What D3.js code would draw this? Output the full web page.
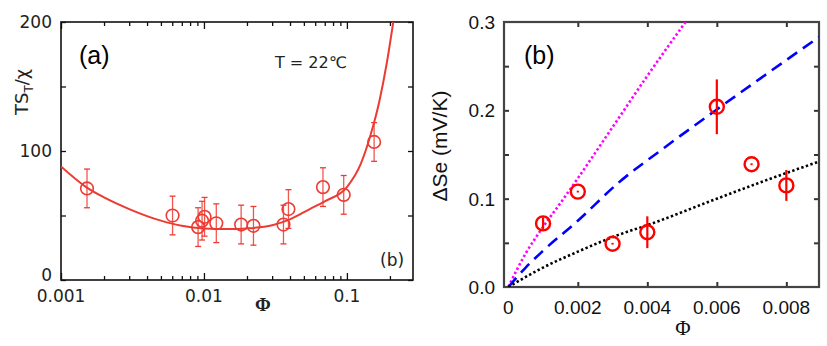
<!DOCTYPE html>
<html>
<head>
<meta charset="utf-8">
<title>Thermophoresis panels</title>
<script src="https://cdn.jsdelivr.net/npm/d3@7"></script>
<style>
  body { margin: 0; background: #fff; }
  svg { display: block; }
  .axis path { display: none; }
  .axis line { stroke: #111; stroke-width: 1.3; }
  .axisB line { stroke: #333; stroke-width: 2; }
</style>
</head>
<body>
<script>
// ---------- panel (a): TS_T/chi vs phi (log x) ----------
const phiA = [0.00152, 0.00603, 0.0091, 0.0097, 0.0101, 0.0122, 0.0182, 0.0222, 0.036, 0.039, 0.068, 0.095, 0.155];
const tsA  = [71, 50, 41, 46, 49, 44, 43, 42, 43, 55, 72, 66, 107];
const errA = [15, 15, 15, 15, 15, 15, 15, 15, 15, 15, 15, 15, 15];
// fitted curve
const fitPhiA = [0.001, 0.0015, 0.002, 0.003, 0.005, 0.007, 0.01, 0.015, 0.02, 0.03, 0.04, 0.055, 0.07, 0.1, 0.125, 0.146, 0.169, 0.19, 0.211];
const fitTsA  = [88, 72, 64, 55, 46, 42, 40, 39.5, 40, 42.5, 47, 55, 61, 72, 90, 112, 139, 168, 200];
const yTicksA = [0, 100, 200];

// ---------- panel (b): delta Se vs phi ----------
const phiB = [0.001, 0.002, 0.003, 0.004, 0.006, 0.007, 0.008];
const seB  = [0.072, 0.108, 0.049, 0.062, 0.204, 0.139, 0.115];
const errB = [0.007, 0.001, 0.001, 0.018, 0.031, 0.001, 0.0175];
const magPhi = [0, 0.0005, 0.001, 0.0015, 0.002, 0.003, 0.004, 0.0051];
const magSe  = [0, 0.038, 0.068, 0.095, 0.123, 0.181, 0.239, 0.3];
const bluePhi = [0, 0.0005, 0.001, 0.002, 0.00317, 0.0045, 0.006, 0.0075, 0.00894];
const blueSe  = [0, 0.022, 0.041, 0.075, 0.118, 0.158, 0.201, 0.243, 0.283];
const blkPhi = [0, 0.001, 0.002, 0.00317, 0.004, 0.006, 0.0075, 0.00894];
const blkSe  = [0, 0.022, 0.04, 0.059, 0.07, 0.1, 0.122, 0.142];
const xTicksB = [0, 0.002, 0.004, 0.006, 0.008];
const yTicksB = [0, 0.1, 0.2, 0.3];

const W = 827, H = 346;
const svg = d3.select('body').append('svg').attr('width', W).attr('height', H);

// ================= panel (a) =================
const xA = d3.scaleLog().domain([0.001, 0.29]).range([61, 413]);
const yA = d3.scaleLinear().domain([0, 200]).range([280, 22]);
const gA = svg.append('g');
const redA = '#ec3b32';

// log ticks
const logMinor = [], logMajor = [0.001, 0.01, 0.1];
[0.001, 0.01, 0.1].forEach(d => { for (let k = 2; k <= 9; k++) if (d * k <= 0.29) logMinor.push(d * k); });

gA.append('g').attr('class', 'axis').attr('transform', 'translate(0,280)')
  .call(d3.axisBottom(xA).tickValues(logMinor).tickSize(-4).tickFormat(''));
gA.append('g').attr('class', 'axis').attr('transform', 'translate(0,280)')
  .call(d3.axisBottom(xA).tickValues(logMajor).tickSize(-7).tickFormat(''));
gA.append('g').attr('class', 'axis').attr('transform', 'translate(0,22)')
  .call(d3.axisTop(xA).tickValues(logMinor).tickSize(-4).tickFormat(''));
gA.append('g').attr('class', 'axis').attr('transform', 'translate(0,22)')
  .call(d3.axisTop(xA).tickValues(logMajor).tickSize(-7).tickFormat(''));
gA.append('g').attr('class', 'axis').attr('transform', 'translate(61,0)')
  .call(d3.axisLeft(yA).tickValues([0, 50, 100, 150, 200]).tickSize(-5).tickFormat(''));
gA.append('g').attr('class', 'axis').attr('transform', 'translate(413,0)')
  .call(d3.axisRight(yA).tickValues([0, 50, 100, 150, 200]).tickSize(-5).tickFormat(''));

gA.append('rect').attr('x', 61).attr('y', 22).attr('width', 352).attr('height', 258)
  .attr('fill', 'none').attr('stroke', '#111').attr('stroke-width', 1.6);

// tick labels
gA.selectAll('.ylab').data(yTicksA).enter().append('text')
  .attr('x', 52).attr('y', d => d === 0 ? 281 : yA(d) + 6)
  .attr('text-anchor', 'end').attr('font-family', 'DejaVu Sans').attr('font-size', 17)
  .attr('fill', '#222').text(d => d);
gA.selectAll('.xlab').data(logMajor).enter().append('text')
  .attr('x', d => xA(d)).attr('y', 302)
  .attr('text-anchor', 'middle').attr('font-family', 'DejaVu Sans').attr('font-size', 17)
  .attr('fill', '#222').text(d => d3.format('~g')(d));

// clip + fit line
svg.append('clipPath').attr('id', 'clipA').append('rect')
  .attr('x', 61).attr('y', 22).attr('width', 352).attr('height', 258);
const fitA = fitPhiA.map((p, i) => [p, fitTsA[i]]);
gA.append('path').datum(fitA).attr('clip-path', 'url(#clipA)')
  .attr('d', d3.line().x(d => xA(d[0])).y(d => yA(d[1])).curve(d3.curveMonotoneX))
  .attr('fill', 'none').attr('stroke', redA).attr('stroke-width', 2);

// data points with capped error bars
const ptsA = gA.selectAll('.ptA').data(phiA.map((p, i) => ({p, v: tsA[i], e: errA[i]})))
  .enter().append('g').attr('stroke', redA).attr('fill', 'none');
ptsA.append('line').attr('x1', d => xA(d.p)).attr('x2', d => xA(d.p))
  .attr('y1', d => yA(d.v + d.e)).attr('y2', d => yA(d.v - d.e)).attr('stroke-width', 1.3).attr('opacity', 0.85);
ptsA.append('line').attr('x1', d => xA(d.p) - 3).attr('x2', d => xA(d.p) + 3)
  .attr('y1', d => yA(d.v + d.e)).attr('y2', d => yA(d.v + d.e)).attr('stroke-width', 1.3);
ptsA.append('line').attr('x1', d => xA(d.p) - 3).attr('x2', d => xA(d.p) + 3)
  .attr('y1', d => yA(d.v - d.e)).attr('y2', d => yA(d.v - d.e)).attr('stroke-width', 1.3);
ptsA.append('circle').attr('cx', d => xA(d.p)).attr('cy', d => yA(d.v)).attr('r', 6.3)
  .attr('stroke-width', 1.6);

// labels
gA.append('text').attr('x', 79).attr('y', 64).attr('font-family', 'Liberation Sans')
  .attr('font-size', 25).attr('fill', '#000').text('(a)');
gA.append('text').attr('x', 275).attr('y', 68).attr('font-family', 'DejaVu Sans')
  .attr('font-size', 16).attr('fill', '#222').text('T = 22\u2103');
gA.append('text').attr('x', 380).attr('y', 266).attr('font-family', 'DejaVu Sans')
  .attr('font-size', 17).attr('fill', '#222').text('(b)');
gA.append('text').attr('x', 263).attr('y', 311).attr('text-anchor', 'middle')
  .attr('font-family', 'Liberation Serif').attr('font-weight', 'bold').attr('font-size', 19)
  .attr('fill', '#222').text('\u03A6');
const yLabA = gA.append('text').attr('transform', 'translate(28,115) rotate(-90)')
  .attr('font-family', 'DejaVu Sans').attr('font-size', 18).attr('fill', '#222');
yLabA.append('tspan').text('TS');
yLabA.append('tspan').attr('font-size', 12).attr('dy', 5).text('T');
yLabA.append('tspan').attr('dy', -5).text('/\u03C7');

// ================= panel (b) =================
const xB = d3.scaleLinear().domain([-0.000124, 0.00894]).range([504, 819]);
const yB = d3.scaleLinear().domain([0, 0.3]).range([287, 22]);
const gB = svg.append('g');

gB.append('g').attr('class', 'axis axisB').attr('transform', 'translate(0,287)')
  .call(d3.axisBottom(xB).tickValues(xTicksB.slice(1)).tickSize(-5).tickFormat(''));
gB.append('g').attr('class', 'axis axisB').attr('transform', 'translate(0,22)')
  .call(d3.axisTop(xB).tickValues(xTicksB.slice(1)).tickSize(-5).tickFormat(''));
const yTicksBAll = [0.05, 0.1, 0.15, 0.2, 0.25];
gB.append('g').attr('class', 'axis axisB').attr('transform', 'translate(504,0)')
  .call(d3.axisLeft(yB).tickValues(yTicksBAll).tickSize(-5).tickFormat(''));
gB.append('g').attr('class', 'axis axisB').attr('transform', 'translate(819,0)')
  .call(d3.axisRight(yB).tickValues(yTicksBAll).tickSize(-5).tickFormat(''));
gB.append('rect').attr('x', 504).attr('y', 22).attr('width', 315).attr('height', 265)
  .attr('fill', 'none').attr('stroke', '#444').attr('stroke-width', 2.2);

gB.selectAll('.ylabB').data(yTicksB).enter().append('text')
  .attr('x', 495).attr('y', d => yB(d) + 7)
  .attr('text-anchor', 'end').attr('font-family', 'Liberation Sans').attr('font-size', 19)
  .attr('fill', '#111').text(d => d3.format('.1f')(d));
gB.selectAll('.xlabB').data(xTicksB).enter().append('text')
  .attr('x', d => xB(d)).attr('y', 314)
  .attr('text-anchor', 'middle').attr('font-family', 'Liberation Sans').attr('font-size', 19)
  .attr('fill', '#111').text(d => d === 0 ? '0' : d3.format('.3f')(d));

svg.append('clipPath').attr('id', 'clipB').append('rect')
  .attr('x', 504).attr('y', 22).attr('width', 315).attr('height', 265);
const lineB = d3.line().x(d => xB(d[0])).y(d => yB(d[1])).curve(d3.curveMonotoneX);
gB.append('path').datum(magPhi.map((p, i) => [p, magSe[i]])).attr('clip-path', 'url(#clipB)')
  .attr('d', lineB).attr('fill', 'none').attr('stroke', '#ff00ff').attr('stroke-width', 2.6)
  .attr('stroke-dasharray', '2.4 2.4');
gB.append('path').datum(bluePhi.map((p, i) => [p, blueSe[i]])).attr('clip-path', 'url(#clipB)')
  .attr('d', lineB).attr('fill', 'none').attr('stroke', '#0000ff').attr('stroke-width', 2.6)
  .attr('stroke-dasharray', '12 7');
gB.append('path').datum(blkPhi.map((p, i) => [p, blkSe[i]])).attr('clip-path', 'url(#clipB)')
  .attr('d', lineB).attr('fill', 'none').attr('stroke', '#000').attr('stroke-width', 2.6)
  .attr('stroke-dasharray', '2.4 2.4');

const ptsB = gB.selectAll('.ptB').data(phiB.map((p, i) => ({p, v: seB[i], e: errB[i]})))
  .enter().append('g').attr('stroke', '#ff0000').attr('fill', 'none');
ptsB.append('line').attr('x1', d => xB(d.p)).attr('x2', d => xB(d.p))
  .attr('y1', d => yB(d.v + d.e)).attr('y2', d => yB(d.v - d.e)).attr('stroke-width', 2.2);
ptsB.append('circle').attr('cx', d => xB(d.p)).attr('cy', d => yB(d.v)).attr('r', 7)
  .attr('stroke-width', 2.4);

gB.append('text').attr('x', 524).attr('y', 64).attr('font-family', 'Liberation Sans')
  .attr('font-size', 25).attr('fill', '#000').text('(b)');
gB.append('text').attr('x', 683).attr('y', 335).attr('text-anchor', 'middle')
  .attr('font-family', 'Liberation Serif').attr('font-size', 21).attr('fill', '#111').text('\u03A6');
gB.append('text').attr('transform', 'translate(447,146) rotate(-90)').attr('text-anchor', 'middle')
  .attr('font-family', 'Liberation Sans').attr('font-size', 21).attr('fill', '#111')
  .text('\u0394Se (mV/K)');
</script>
</body>
</html>
